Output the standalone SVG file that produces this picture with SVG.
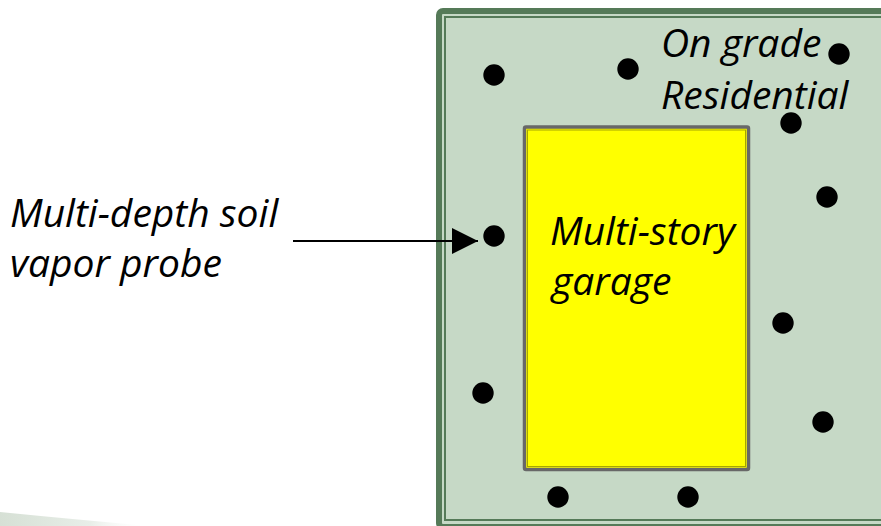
<svg xmlns="http://www.w3.org/2000/svg" width="881" height="526" viewBox="0 0 881 526">
  <style>
    .lbl { font-family: "Open Sans", "Noto Sans", "DejaVu Sans", sans-serif; font-style: italic; font-size: 39px; fill: #000; }
    .probe { fill: #000; }
  </style>
  <defs>
    <linearGradient id="swoosh" x1="0" y1="0" x2="1" y2="0">
      <stop offset="0" stop-color="#d6e0d5"/>
      <stop offset="0.6" stop-color="#e8eee8"/>
      <stop offset="1" stop-color="#ffffff" stop-opacity="0"/>
    </linearGradient>
    <marker id="arrow" markerUnits="userSpaceOnUse" markerWidth="28" markerHeight="28" refX="26" refY="13" orient="auto">
      <path d="M0,0 L26,13 L0,26 Z" fill="#000"/>
    </marker>
  </defs>
  <rect width="881" height="526" fill="#ffffff"/>
  <path d="M0,512 Q70,519 150,526 L0,526 Z" fill="url(#swoosh)"/>

  <g id="site">
    <rect x="439" y="11" width="460" height="516" rx="4" fill="#c6d9c6" stroke="#557a58" stroke-width="6"/>
    <rect x="445" y="17" width="450" height="503" fill="none" stroke="#557a58" stroke-width="2"/>
    <text class="lbl" x="661" y="57">On grade</text>
    <text class="lbl" x="661" y="109">Residential</text>
  </g>

  <g id="garage">
    <rect x="524.5" y="127" width="224" height="342.5" rx="1.5" fill="#ffff00" stroke="#686868" stroke-width="3.5"/>
    <rect x="527.5" y="130" width="218" height="336.5" fill="none" stroke="#a6a600" stroke-width="1"/>
    <text class="lbl" x="550" y="245">Multi-story</text>
    <text class="lbl" x="552" y="295">garage</text>
  </g>

  <g id="probes">
    <circle class="probe" cx="494" cy="75" r="10.7"/>
    <circle class="probe" cx="628" cy="69" r="10.7"/>
    <circle class="probe" cx="839" cy="54" r="10.7"/>
    <circle class="probe" cx="791" cy="123" r="10.7"/>
    <circle class="probe" cx="827" cy="197" r="10.7"/>
    <circle class="probe" cx="494" cy="236" r="10.7"/>
    <circle class="probe" cx="783" cy="323" r="10.7"/>
    <circle class="probe" cx="483" cy="393" r="10.7"/>
    <circle class="probe" cx="823" cy="422" r="10.7"/>
    <circle class="probe" cx="558" cy="497" r="10.7"/>
    <circle class="probe" cx="688" cy="497" r="10.7"/>
  </g>

  <g id="probe-label">
    <text class="lbl" x="10" y="227">Multi-depth soil</text>
    <text class="lbl" x="10" y="277">vapor probe</text>
  </g>

  <g id="connectors">
    <line x1="293" y1="241" x2="478" y2="241" stroke="#000" stroke-width="2" marker-end="url(#arrow)"/>
  </g>
</svg>
